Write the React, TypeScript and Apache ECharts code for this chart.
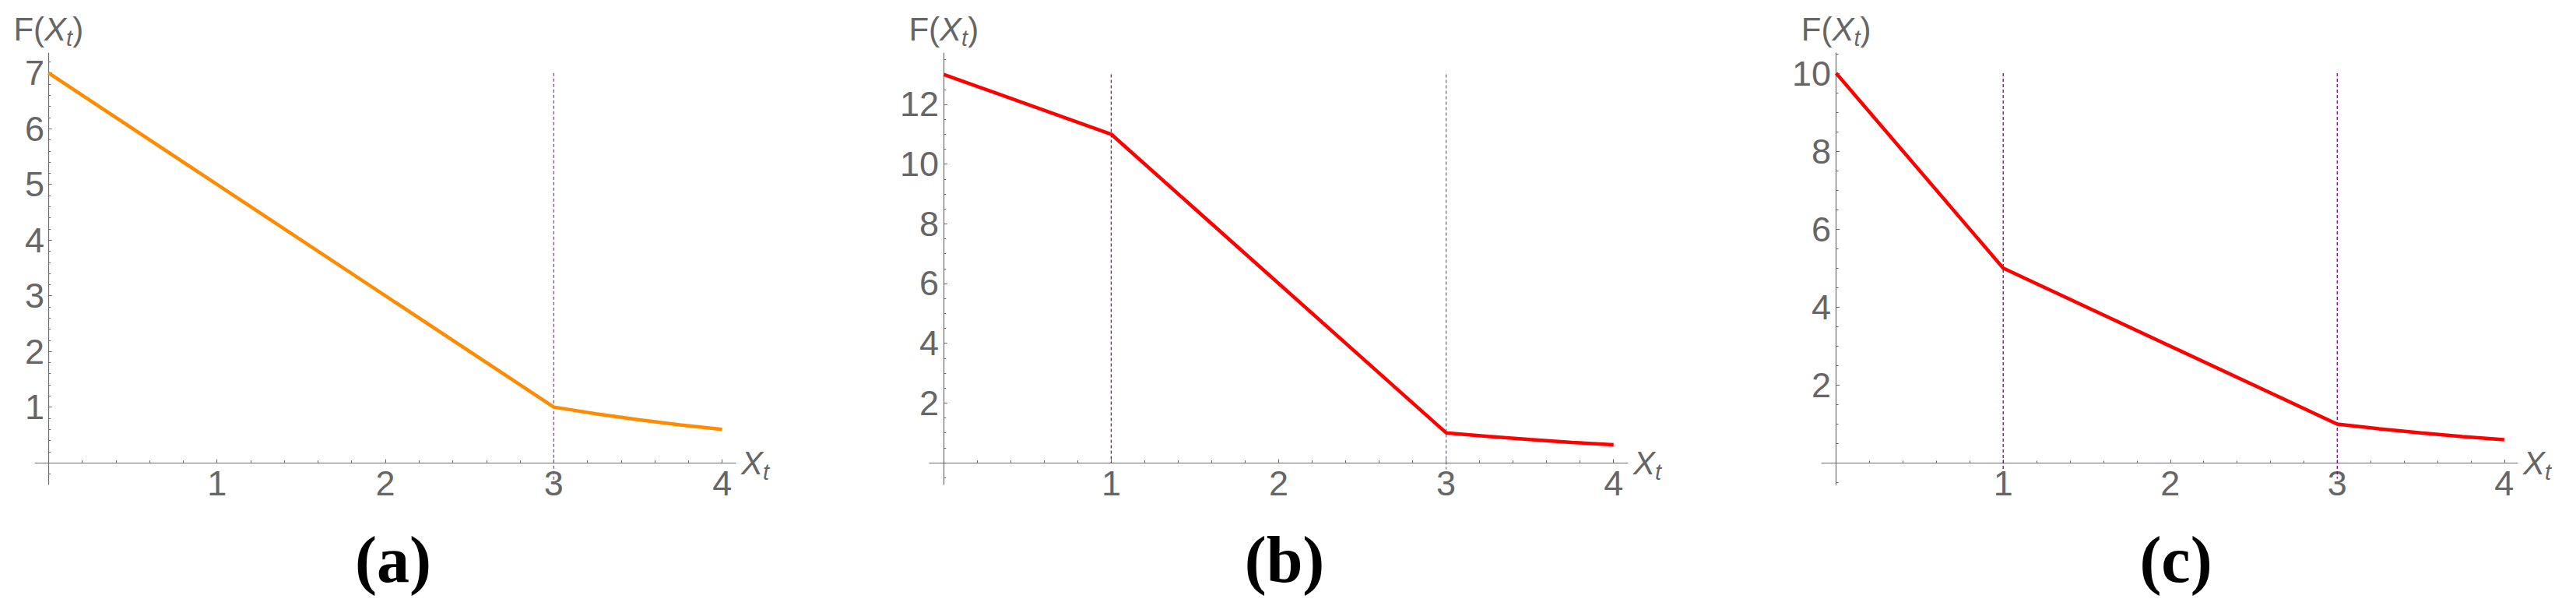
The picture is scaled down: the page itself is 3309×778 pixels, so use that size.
import React, { useEffect, useRef } from "react";
import * as echarts from "echarts";

// ---------- data ----------
const X_TICKS = [1, 2, 3, 4];

const A_X = [0, 3, 3.25, 3.5, 3.75, 4];
const A_Y = [7, 1, 0.88, 0.775, 0.68, 0.6];
const A_YTICKS = [1, 2, 3, 4, 5, 6, 7];
const A_DASH_X = [3];
const A_DASH_TOP = [7];
const A_DASH_BOTTOM = [-0.39];

const B_X = [0, 1, 3, 3.25, 3.5, 3.75, 4];
const B_Y = [13, 11, 1, 0.88, 0.775, 0.68, 0.6];
const B_YTICKS = [2, 4, 6, 8, 10, 12];
const B_DASH_X = [1, 3];
const B_DASH_TOP = [13, 13];
const B_DASH_BOTTOM = [0, -0.22];

const C_X = [0, 1, 3, 3.25, 3.5, 3.75, 4];
const C_Y = [10, 5, 1, 0.88, 0.775, 0.68, 0.6];
const C_YTICKS = [2, 4, 6, 8, 10];
const C_DASH_X = [1, 3];
const C_DASH_TOP = [10, 10];
const C_DASH_BOTTOM = [-0.2, -0.4];

const CAPTIONS = ["(a)", "(b)", "(c)"];

// axis ranges (plot range)
const X_MIN = [-0.08, -0.085, -0.087];
const X_MAX = [4.08, 4.085, 4.08];
const Y_MIN = [-0.39, -0.73, -0.55];
const Y_MAX = [7.36, 13.72, 10.52];
const Y_MINOR_SPLIT = [5, 4, 4];
const Y_SPLIT = [8, 7, 6];

// ---------- styles / layout ----------
const SANS = "'Liberation Sans', Arial, sans-serif";
const SERIF = "'Liberation Serif', 'Times New Roman', serif";
const TXT = "#666666";
const AXIS = "#6b6b6b";
const LAYOUT = [
  { left: 45, width: 900, capX: 505 },
  { left: 1194, width: 897, capX: 1650 },
  { left: 2340, width: 894, capX: 2795 },
];
const LINE_COLORS = ["#ff8c00", "#ff0000", "#ff0000"];
const DASH_COLORS = [["#a03ca0"], ["#7a107a", "#8a5a8a"], ["#800080", "#800080"]];

const PANELS = [
  { xs: A_X, ys: A_Y, yt: A_YTICKS, dx: A_DASH_X, dt: A_DASH_TOP, db: A_DASH_BOTTOM },
  { xs: B_X, ys: B_Y, yt: B_YTICKS, dx: B_DASH_X, dt: B_DASH_TOP, db: B_DASH_BOTTOM },
  { xs: C_X, ys: C_Y, yt: C_YTICKS, dx: C_DASH_X, dt: C_DASH_TOP, db: C_DASH_BOTTOM },
];

const nameRich = {
  f: { fontSize: 42, fontFamily: SANS, color: TXT, lineHeight: 52, verticalAlign: "middle" },
  x: { fontSize: 42, fontFamily: SANS, color: TXT, fontStyle: "italic", lineHeight: 52, verticalAlign: "middle" },
  s: { fontSize: 29, fontFamily: SANS, color: TXT, fontStyle: "italic", verticalAlign: "bottom" },
};

function buildOption() {
  const grid: any[] = [];
  const xAxis: any[] = [];
  const yAxis: any[] = [];
  const series: any[] = [];
  const graphic: any[] = [];

  PANELS.forEach((p, i) => {
    const L = LAYOUT[i];
    grid.push({ left: L.left, top: 68, width: L.width, height: 554, containLabel: false });
    xAxis.push({
      type: "value",
      gridIndex: i,
      min: X_MIN[i],
      max: X_MAX[i],
      splitNumber: 4,
      axisLine: { show: true, onZero: true, lineStyle: { color: AXIS, width: 1.2 } },
      axisTick: { show: true, inside: true, length: 4.5, customValues: X_TICKS, lineStyle: { color: AXIS, width: 1 } },
      minorTick: { show: true, splitNumber: 5, length: 3, lineStyle: { color: AXIS, width: 1 } },
      axisLabel: {
        show: true,
        customValues: X_TICKS,
        margin: -2,
        verticalAlign: "middle",
        fontSize: 45,
        fontFamily: SANS,
        color: TXT,
        formatter: (v: number) => (X_TICKS.indexOf(v) >= 0 ? String(v) : ""),
      },
      splitLine: { show: false },
      name: "{x|X}{s|t}",
      nameLocation: "end",
      nameGap: 7,
      nameTextStyle: { rich: nameRich },
    });
    yAxis.push({
      type: "value",
      gridIndex: i,
      min: Y_MIN[i],
      max: Y_MAX[i],
      splitNumber: Y_SPLIT[i],
      axisLine: { show: true, onZero: true, lineStyle: { color: AXIS, width: 1.2 } },
      axisTick: { show: true, inside: true, length: 4.5, customValues: p.yt, lineStyle: { color: AXIS, width: 1 } },
      minorTick: { show: true, splitNumber: Y_MINOR_SPLIT[i], length: 3, lineStyle: { color: AXIS, width: 1 } },
      axisLabel: {
        show: true,
        customValues: p.yt,
        margin: -12,
        fontSize: 45,
        fontFamily: SANS,
        color: TXT,
        formatter: (v: number) => (p.yt.indexOf(v) >= 0 ? String(v) : ""),
      },
      splitLine: { show: false },
      name: "{f|F(}{x|X}{s|t}{f|)}",
      nameLocation: "end",
      nameGap: 5,
      nameTextStyle: { rich: nameRich },
    });

    p.dx.forEach((x, k) => {
      series.push({
        type: "line",
        xAxisIndex: i,
        yAxisIndex: i,
        data: [
          [x, p.dt[k]],
          [x, p.db[k]],
        ],
        symbol: "none",
        showSymbol: false,
        silent: true,
        lineStyle: { color: DASH_COLORS[i][k], width: 1.3, type: [4, 3] },
        z: 1,
      });
    });

    series.push({
      type: "line",
      xAxisIndex: i,
      yAxisIndex: i,
      data: p.xs.map((x, k) => [x, p.ys[k]]),
      symbol: "none",
      showSymbol: false,
      lineStyle: { color: LINE_COLORS[i], width: 4.5 },
      z: 3,
    });

    graphic.push({
      type: "text",
      x: L.capX,
      y: 718,
      style: {
        text: CAPTIONS[i],
        font: `bold 84px ${SERIF}`,
        fill: "#000000",
        align: "center",
        verticalAlign: "middle",
        textAlign: "center",
        textVerticalAlign: "middle",
      },
    });
  });

  return {
    animation: false,
    backgroundColor: "#ffffff",
    grid,
    xAxis,
    yAxis,
    series,
    graphic,
  };
}

export default function App() {
  const ref = useRef<HTMLDivElement | null>(null);
  useEffect(() => {
    if (!ref.current) return;
    const chart = echarts.init(ref.current, undefined, { renderer: "svg" });
    chart.setOption(buildOption() as any);
    return () => chart.dispose();
  }, []);
  return (
    <div
      ref={ref}
      style={{ position: "absolute", left: 0, top: 0, width: 3309, height: 778, background: "#fff" }}
    />
  );
}
